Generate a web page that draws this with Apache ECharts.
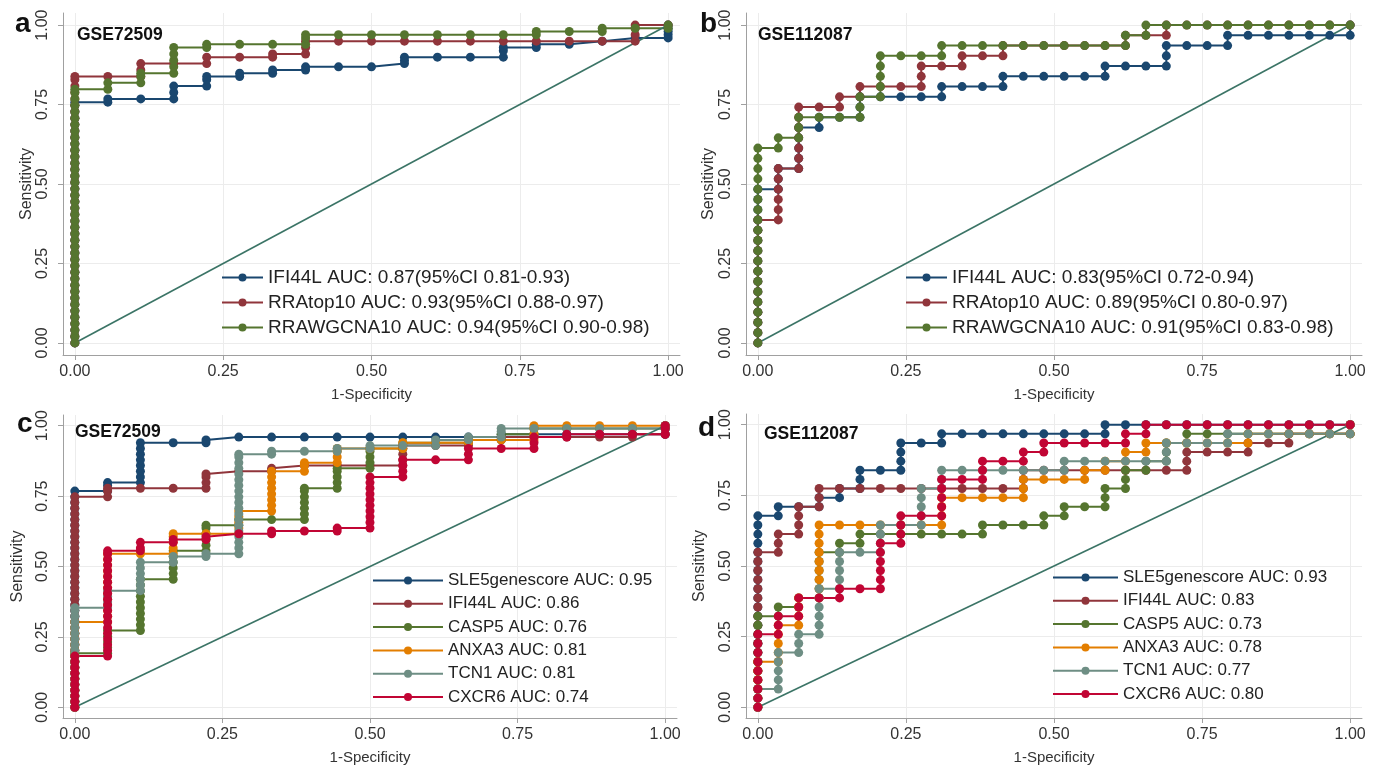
<!DOCTYPE html>
<html>
<head>
<meta charset="utf-8">
<script src="https://cdn.jsdelivr.net/npm/echarts@6/dist/echarts.min.js"></script>
<style>
  html, body { margin: 0; padding: 0; background: #fff; }
  #chart { width: 1379px; height: 768px; }
</style>
</head>
<body>
<div id="chart"></div>
<script>
// Axis ticks shared by every panel
const tickValues = [0, 0.25, 0.5, 0.75, 1];

// Each ROC curve is a list of columns: [false-positive count, [true-positive counts at that step]]

// ---------- GSE72509: 18 controls, 99 cases ----------
const controlsGSE72509 = 18;
const casesGSE72509 = 99;

const aIFI44L = [
  [0, [0,2,4,6,8,10,12,14,16,18,20,22,24,26,28,30,32,34,36,38,40,42,44,46,48,50,52,54,56,58,60,62,64,66,68,70,72,74,75]],
  [1, [75,76]], [2, [76]], [3, [76,78,80]], [4, [80,82,83]], [5, [83,84]], [6, [84,85]], [7, [85,86]], [8, [86]], [9, [86]],
  [10, [87,88,89]], [11, [89]], [12, [89]], [13, [89,91,92]], [14, [92,93]], [15, [93]], [16, [94]], [17, [95]], [18, [95,96,97,98,99]]
];
const aRRAtop10 = [
  [0, [0,2,4,6,8,10,12,14,16,18,20,22,24,26,28,30,32,34,36,38,40,42,44,46,48,50,52,54,56,58,60,62,64,66,68,70,72,74,76,78,80,82,83]],
  [1, [83]], [2, [83,85,87]], [3, [87]], [4, [87,89]], [5, [89]], [6, [89,90]], [7, [90,92,94]], [8, [94]], [9, [94]],
  [10, [94]], [11, [94]], [12, [94]], [13, [94]], [14, [94]], [15, [94]], [16, [94]], [17, [94,96,98,99]], [18, [99]]
];
const aRRAWGCNA10 = [
  [0, [0,2,4,6,8,10,12,14,16,18,20,22,24,26,28,30,32,34,36,38,40,42,44,46,48,50,52,54,56,58,60,62,64,66,68,70,72,74,76,78,79]],
  [1, [79,81]], [2, [81,83,84]], [3, [84,86,88,90,92]], [4, [92,93]], [5, [93]], [6, [93]], [7, [93,95,96]], [8, [96]],
  [9, [96]], [10, [96]], [11, [96]], [12, [96]], [13, [96]], [14, [96,97]], [15, [97]], [16, [97,98]], [17, [98]], [18, [98,99]]
];

const cSLE5 = [
  [0, [0,2,4,6,8,10,12,14,16,18,20,22,24,26,28,30,32,34,36,38,40,42,44,46,48,50,52,54,56,58,60,62,64,66,68,70,72,74,76]],
  [1, [76,78,79]], [2, [79,81,83,85,87,89,91,93]], [3, [93]], [4, [93,94]], [5, [95]], [6, [95]], [7, [95]], [8, [95]],
  [9, [95]], [10, [95]], [11, [95]], [12, [95]], [13, [95,96]], [14, [96]], [15, [96]], [16, [96]], [17, [96]], [18, [96,98,99]]
];
const cIFI44L = [
  [0, [0,2,4,6,8,10,12,14,16,18,20,22,24,26,28,30,32,34,36,38,40,42,44,46,48,50,52,54,56,58,60,62,64,66,68,70,72,74]],
  [1, [74,76,77]], [2, [77]], [3, [77]], [4, [77,79,81,82]], [5, [83]], [6, [83,84]], [7, [85]], [8, [85]], [9, [85]],
  [10, [85,87,89,91,92]], [11, [92]], [12, [92,94]], [13, [94,95]], [14, [95]], [15, [95]], [16, [95]], [17, [95,96]], [18, [96,98,99]]
];
const cCASP5 = [
  [0, [0,2,4,6,8,10,12,14,16,18,19]],
  [1, [19,21,23,25,27]], [2, [27,29,31,33,35,37,39,41,43,45]], [3, [45,47,49,51,53,55]], [4, [55,57,59,61,63,64]],
  [5, [64,66]], [6, [66]], [7, [66,68,70,72,74,76,77]], [8, [77,79,81,83,84]], [9, [84,86,88,90,91]], [10, [91,93]],
  [11, [93]], [12, [93,94]], [13, [94,96]], [14, [96,98]], [15, [98]], [16, [98]], [17, [98]], [18, [98,99]]
];
const cANXA3 = [
  [0, [0,2,4,6,8,10,12,14,16,18,20,22,24,26,28,30]],
  [1, [30,32,34,36,38,40,42,44,46,48,50,52,54]], [2, [54]], [3, [54,56,58,60,61]], [4, [61]], [5, [61,63,65,67,69]],
  [6, [69,71,73,75,77,79,81,83]], [7, [83,85,86]], [8, [86,88,90,91]], [9, [91]], [10, [91,93]], [11, [93]],
  [12, [93,94]], [13, [94]], [14, [94,96,98,99]], [15, [99]], [16, [99]], [17, [99]], [18, [99]]
];
const cTCN1 = [
  [0, [0,2,4,6,8,10,12,14,16,18,20,22,24,26,28,30,32,34,35]],
  [1, [35,37,39,41]], [2, [41,43,45,47,49,51]], [3, [51,53]], [4, [53,54]],
  [5, [54,56,58,60,62,64,66,68,70,72,74,76,78,80,82,84,86,88,89]], [6, [89,90]], [7, [90]], [8, [90,91]], [9, [91,92]],
  [10, [92]], [11, [92,94]], [12, [94,95]], [13, [95,97,98]], [14, [98]], [15, [98]], [16, [98]], [17, [98]], [18, [98,99]]
];
const cCXCR6 = [
  [0, [0,2,4,6,8,10,12,14,16,18]],
  [1, [18,20,22,24,26,28,30,32,34,36,38,40,42,44,46,48,50,52,54,55]], [2, [55,56,58]], [3, [58,59]], [4, [59,60]],
  [5, [61]], [6, [61,62]], [7, [62]], [8, [62,63]], [9, [63,65,67,69,71,73,75,77,79,81]], [10, [81,83,85,87]], [11, [87]],
  [12, [87,89,91]], [13, [91]], [14, [91,93,95]], [15, [95,96]], [16, [96]], [17, [96]], [18, [96,98,99]]
];

// ---------- GSE112087: 29 controls, 31 cases ----------
const controlsGSE112087 = 29;
const casesGSE112087 = 31;

const bIFI44L = [
  [0, [0,1,2,3,4,5,6,7,8,9,10,11,12,13,14,15]], [1, [15,16,17]], [2, [17,18,19,20,21]], [3, [21,22]], [4, [22]],
  [5, [22,23,24]], [6, [24]], [7, [24]], [8, [24]], [9, [24,25]], [10, [25]], [11, [25]], [12, [25,26]],
  [13, [26]], [14, [26]], [15, [26]], [16, [26]], [17, [26,27]], [18, [27]], [19, [27]], [20, [27,28,29]],
  [21, [29]], [22, [29]], [23, [29,30]], [24, [30]], [25, [30]], [26, [30]], [27, [30]], [28, [30]], [29, [30,31]]
];
const bRRAtop10 = [
  [0, [0,1,2,3,4,5,6,7,8,9,10,11,12]], [1, [12,13,14,15,16,17]], [2, [17,18,19,20,21,22,23]], [3, [23]],
  [4, [23,24]], [5, [24,25]], [6, [25]], [7, [25]], [8, [25,26,27]], [9, [27]], [10, [27,28]], [11, [28]],
  [12, [28,29]], [13, [29]], [14, [29]], [15, [29]], [16, [29]], [17, [29]], [18, [29,30]], [19, [30]],
  [20, [30,31]], [21, [31]], [22, [31]], [23, [31]], [24, [31]], [25, [31]], [26, [31]], [27, [31]], [28, [31]], [29, [31]]
];
const bRRAWGCNA10 = [
  [0, [0,1,2,3,4,5,6,7,8,9,10,11,12,13,14,15,16,17,18,19]], [1, [19,20]], [2, [20,21,22]], [3, [22]], [4, [22]],
  [5, [22,23,24]], [6, [24,25,26,27,28]], [7, [28]], [8, [28]], [9, [28,29]], [10, [29]], [11, [29]], [12, [29]],
  [13, [29]], [14, [29]], [15, [29]], [16, [29]], [17, [29]], [18, [29,30]], [19, [30,31]], [20, [31]], [21, [31]],
  [22, [31]], [23, [31]], [24, [31]], [25, [31]], [26, [31]], [27, [31]], [28, [31]], [29, [31]]
];

const dSLE5 = [
  [0, [0,1,2,3,4,5,6,7,8,9,10,11,12,13,14,15,16,17,18,19,20,21]], [1, [21,22]], [2, [22]], [3, [22,23]],
  [4, [23,24]], [5, [24,25,26]], [6, [26]], [7, [26,27,28,29]], [8, [29]], [9, [29,30]], [10, [30]], [11, [30]],
  [12, [30]], [13, [30]], [14, [30]], [15, [30]], [16, [30]], [17, [30,31]], [18, [31]], [19, [31]], [20, [31]],
  [21, [31]], [22, [31]], [23, [31]], [24, [31]], [25, [31]], [26, [31]], [27, [31]], [28, [31]], [29, [31]]
];
const dIFI44L = [
  [0, [0,1,2,3,4,5,6,7,8,9,10,11,12,13,14,15,16,17]], [1, [17,18,19]], [2, [19,20,21,22]], [3, [22,23,24]],
  [4, [24]], [5, [24]], [6, [24]], [7, [24]], [8, [24]], [9, [24]], [10, [24]], [11, [24]], [12, [24]],
  [13, [24,25,26]], [14, [26]], [15, [26]], [16, [26]], [17, [26]], [18, [26]], [19, [26]], [20, [26]],
  [21, [26,27,28]], [22, [28]], [23, [28]], [24, [28,29]], [25, [29]], [26, [29,30]], [27, [30]], [28, [30]], [29, [30,31]]
];
const dCASP5 = [
  [0, [0,1,2,3,4,5,6,7,8,9,10]], [1, [10,11]], [2, [11,12]], [3, [12,13,14,15,16,17]], [4, [17,18]], [5, [18,19]],
  [6, [19]], [7, [19]], [8, [19]], [9, [19]], [10, [19]], [11, [19,20]], [12, [20]], [13, [20]], [14, [20,21]],
  [15, [21,22]], [16, [22]], [17, [22,23,24]], [18, [24,25,26]], [19, [26,27]], [20, [27,28,29]], [21, [29,30]],
  [22, [30]], [23, [30]], [24, [30]], [25, [30]], [26, [30]], [27, [30]], [28, [30]], [29, [30,31]]
];
const dANXA3 = [
  [0, [0,1,2,3,4,5]], [1, [5,6,7,8,9]], [2, [9,10,11,12]], [3, [12,13,14,15,16,17,18,19,20]], [4, [20]], [5, [20]],
  [6, [20]], [7, [20]], [8, [20]], [9, [20,21,22,23]], [10, [23]], [11, [23]], [12, [23]], [13, [23,24,25]],
  [14, [25]], [15, [25]], [16, [25,26]], [17, [26,27]], [18, [27,28]], [19, [28,29]], [20, [29]], [21, [29]],
  [22, [29]], [23, [29]], [24, [29,30]], [25, [30]], [26, [30]], [27, [30]], [28, [30]], [29, [30,31]]
];
const dTCN1 = [
  [0, [0,1,2]], [1, [2,3,4,5,6]], [2, [6,7,8]], [3, [8,9,10,11,12,13]], [4, [13,14,15,16,17]], [5, [17]],
  [6, [17,18,19,20]], [7, [20]], [8, [20,21,22,23,24]], [9, [24,25,26]], [10, [26]], [11, [26]], [12, [26]],
  [13, [26]], [14, [26]], [15, [26,27]], [16, [27]], [17, [27]], [18, [27]], [19, [27]], [20, [27,28,29]],
  [21, [29]], [22, [29]], [23, [29,30]], [24, [30]], [25, [30]], [26, [30]], [27, [30]], [28, [30]], [29, [30,31]]
];
const dCXCR6 = [
  [0, [0,1,2,3,4,5,6,7,8]], [1, [8,9,10]], [2, [10,11,12]], [3, [12]], [4, [12,13]], [5, [13]],
  [6, [13,14,15,16,17,18]], [7, [18,19,20,21]], [8, [21]], [9, [21,22,23,24,25]], [10, [25]], [11, [25,26,27]],
  [12, [27]], [13, [27,28]], [14, [28,29]], [15, [29]], [16, [29]], [17, [29]], [18, [29,30]], [19, [30,31]],
  [20, [31]], [21, [31]], [22, [31]], [23, [31]], [24, [31]], [25, [31]], [26, [31]], [27, [31]], [28, [31]], [29, [31]]
];

// Curve labels
const namesA = ['IFI44L AUC: 0.87(95%CI 0.81-0.93)', 'RRAtop10 AUC: 0.93(95%CI 0.88-0.97)', 'RRAWGCNA10 AUC: 0.94(95%CI 0.90-0.98)'];
const namesB = ['IFI44L AUC: 0.83(95%CI 0.72-0.94)', 'RRAtop10 AUC: 0.89(95%CI 0.80-0.97)', 'RRAWGCNA10 AUC: 0.91(95%CI 0.83-0.98)'];
const namesC = ['SLE5genescore AUC: 0.95', 'IFI44L AUC: 0.86', 'CASP5 AUC: 0.76', 'ANXA3 AUC: 0.81', 'TCN1 AUC: 0.81', 'CXCR6 AUC: 0.74'];
const namesD = ['SLE5genescore AUC: 0.93', 'IFI44L AUC: 0.83', 'CASP5 AUC: 0.73', 'ANXA3 AUC: 0.78', 'TCN1 AUC: 0.77', 'CXCR6 AUC: 0.80'];

// Stata s2color palette
const palette3 = ['#1a476f', '#90353b', '#55752f'];
const palette6 = ['#1a476f', '#90353b', '#55752f', '#e37e00', '#6e8e84', '#c10534'];
const diagColor = '#3b7466';
const FONT = '"Liberation Sans", Arial, Helvetica, sans-serif';

// Flatten columns of ROC steps into [1-specificity, sensitivity] pairs
function rocPoints(cols, nControls, nCases) {
  const pts = [];
  cols.forEach(([fp, tps]) => tps.forEach(tp => pts.push([fp / nControls, tp / nCases])));
  return pts;
}

const panels = [
  { grid: { left: 63, top: 13, width: 617, height: 342 }, letter: 'a', letterPos: [15, 24], dataset: 'GSE72509', dsPos: [77, 35],
    curves: [aIFI44L, aRRAtop10, aRRAWGCNA10], names: namesA, colors: palette3, controls: controlsGSE72509, cases: casesGSE72509,
    legend: { left: 221, top: 268, itemWidth: 41, itemGap: 6, fontSize: 19 }, yNameGap: 28, xNameGap: 32 },
  { grid: { left: 746, top: 13, width: 616, height: 342 }, letter: 'b', letterPos: [700, 24], dataset: 'GSE112087', dsPos: [758, 35],
    curves: [bIFI44L, bRRAtop10, bRRAWGCNA10], names: namesB, colors: palette3, controls: controlsGSE112087, cases: casesGSE112087,
    legend: { left: 905, top: 268, itemWidth: 41, itemGap: 6, fontSize: 19 }, yNameGap: 29, xNameGap: 32 },
  { grid: { left: 63, top: 415, width: 614, height: 303 }, letter: 'c', letterPos: [17, 424], dataset: 'GSE72509', dsPos: [75, 432],
    curves: [cSLE5, cIFI44L, cCASP5, cANXA3, cTCN1, cCXCR6], names: namesC, colors: palette6, controls: controlsGSE72509, cases: casesGSE72509,
    legend: { left: 372, top: 572, itemWidth: 70, itemGap: 6.3, fontSize: 17 }, yNameGap: 37, xNameGap: 32 },
  { grid: { left: 746, top: 414, width: 616, height: 304 }, letter: 'd', letterPos: [698, 428], dataset: 'GSE112087', dsPos: [764, 434],
    curves: [dSLE5, dIFI44L, dCASP5, dANXA3, dTCN1, dCXCR6], names: namesD, colors: palette6, controls: controlsGSE112087, cases: casesGSE112087,
    legend: { left: 1052, top: 569, itemWidth: 65, itemGap: 6.3, fontSize: 17 }, yNameGap: 38, xNameGap: 32 }
];

const axisCommon = {
  type: 'value',
  axisLine: { show: true, onZero: false, lineStyle: { color: '#a0a0a0', width: 1 } },
  axisTick: { show: true, inside: false, length: 5, customValues: tickValues, lineStyle: { color: '#a0a0a0' } },
  axisLabel: { customValues: tickValues, formatter: v => v.toFixed(2), color: '#333', fontSize: 16, fontFamily: FONT },
  splitLine: { show: true, lineStyle: { color: '#ececec', width: 1 } },
  nameLocation: 'middle',
  nameTextStyle: { color: '#333', fontSize: 15, fontFamily: FONT }
};

const option = {
  animation: false,
  backgroundColor: '#fff',
  grid: panels.map(p => Object.assign({ outerBoundsMode: 'none', containLabel: false }, p.grid)),
  xAxis: panels.map((p, i) => Object.assign({}, axisCommon, {
    gridIndex: i, min: -0.02, max: 1.02, name: '1-Specificity', nameGap: p.xNameGap,
    axisLabel: Object.assign({}, axisCommon.axisLabel, { margin: 9 })
  })),
  yAxis: panels.map((p, i) => Object.assign({}, axisCommon, {
    gridIndex: i, min: -0.038, max: 1.038, name: 'Sensitivity', nameGap: p.yNameGap, nameRotate: 90,
    nameTextStyle: Object.assign({}, axisCommon.nameTextStyle, { fontSize: 16 }),
    axisLabel: Object.assign({}, axisCommon.axisLabel, { rotate: 90, margin: 12 })
  })),
  legend: panels.map(p => ({
    data: p.names, orient: 'vertical', left: p.legend.left, top: p.legend.top,
    itemWidth: p.legend.itemWidth, itemHeight: 10, itemGap: p.legend.itemGap,
    padding: 0, selectedMode: false,
    textStyle: { color: '#222', fontSize: p.legend.fontSize, fontFamily: FONT, padding: [0, 0, 0, 0] }
  })),
  graphic: [].concat(...panels.map(p => [
    { type: 'text', x: p.letterPos[0], y: p.letterPos[1], z: 100,
      style: { text: p.letter, font: 'bold 28px ' + FONT, fill: '#111', verticalAlign: 'middle' } },
    { type: 'text', x: p.dsPos[0], y: p.dsPos[1], z: 100,
      style: { text: p.dataset, font: 'bold 17.5px ' + FONT, fill: '#111', verticalAlign: 'middle' } }
  ])),
  series: []
};

panels.forEach((p, i) => {
  p.curves.forEach((cols, k) => {
    option.series.push({
      type: 'line', name: p.names[k], xAxisIndex: i, yAxisIndex: i,
      data: rocPoints(cols, p.controls, p.cases),
      symbol: 'circle', symbolSize: 9, showSymbol: true, showAllSymbol: true,
      clip: false, silent: true,
      color: p.colors[k],
      itemStyle: { color: p.colors[k] },
      lineStyle: { color: p.colors[k], width: 2 },
      emphasis: { disabled: true }
    });
  });
  // chance line
  option.series.push({
    type: 'line', name: 'chance-' + p.letter, xAxisIndex: i, yAxisIndex: i,
    data: [[0, 0], [1, 1]], showSymbol: false, symbol: 'none', silent: true,
    lineStyle: { color: diagColor, width: 1.6 }, emphasis: { disabled: true }
  });
});

const chart = echarts.init(document.getElementById('chart'), null, { renderer: 'canvas' });
chart.setOption(option);
</script>
</body>
</html>
